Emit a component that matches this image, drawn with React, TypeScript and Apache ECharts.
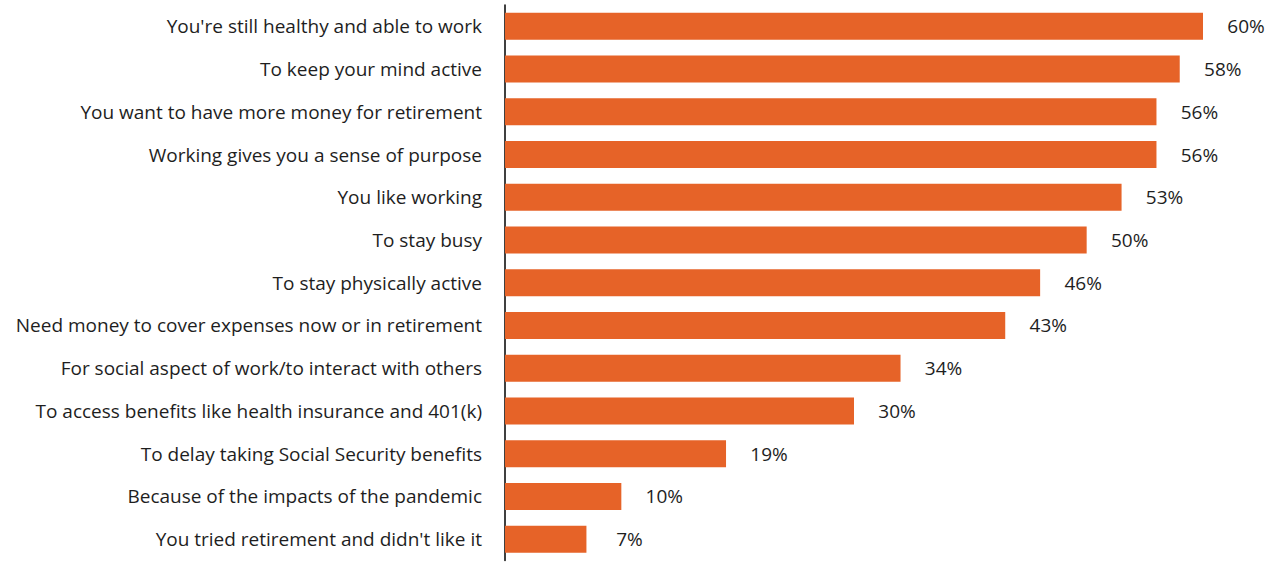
import React, { useEffect, useRef } from "react";
import * as echarts from "echarts";

const categories = [
  "You're still healthy and able to work",
  "To keep your mind active",
  "You want to have more money for retirement",
  "Working gives you a sense of purpose",
  "You like working",
  "To stay busy",
  "To stay physically active",
  "Need money to cover expenses now or in retirement",
  "For social aspect of work/to interact with others",
  "To access benefits like health insurance and 401(k)",
  "To delay taking Social Security benefits",
  "Because of the impacts of the pandemic",
  "You tried retirement and didn't like it",
];
const values = [60, 58, 56, 56, 53, 50, 46, 43, 34, 30, 19, 10, 7];

const FONT = "'Open Sans', sans-serif";

export default function App() {
  const ref = useRef<HTMLDivElement>(null);
  useEffect(() => {
    document.body.style.margin = "0";
    const chart = echarts.init(ref.current!, null, { renderer: "svg" });
    chart.setOption({
      animation: false,
      grid: { left: 505, right: 75, top: 5, bottom: 4.5, containLabel: false },
      xAxis: {
        type: "value",
        min: 0,
        max: 60,
        show: false,
      },
      yAxis: {
        type: "category",
        data: categories,
        inverse: true,
        axisLine: { show: true, lineStyle: { color: "#000", width: 1.5 } },
        axisTick: { show: false },
        axisLabel: {
          margin: 23,
          color: "#1e1e1e",
          fontSize: 19,
          fontFamily: FONT,
        },
      },
      series: [
        {
          type: "bar",
          data: values,
          barWidth: 27,
          itemStyle: { color: "#E66328" },
          label: {
            show: true,
            position: "right",
            distance: 43,
            align: "center",
            formatter: "{c}%",
            color: "#1e1e1e",
            fontSize: 19,
            fontFamily: FONT,
          },
        },
      ],
    });
    return () => chart.dispose();
  }, []);
  return <div ref={ref} style={{ width: 1278, height: 565 }} />;
}
